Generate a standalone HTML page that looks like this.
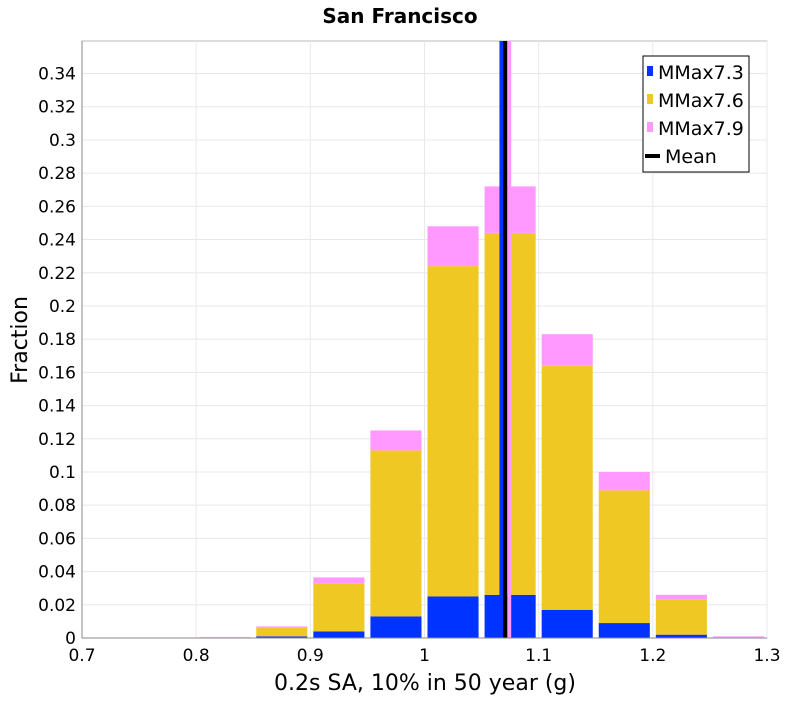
<!DOCTYPE html>
<html><head><meta charset="utf-8"><style>
body{margin:0;background:#fff;font-family:"DejaVu Sans","Liberation Sans",sans-serif}
</style></head><body>
<svg id="chart" width="800" height="700" xmlns="http://www.w3.org/2000/svg">
<text x="400" y="23" text-anchor="middle" font-size="20" font-weight="bold">San Francisco</text>
<rect x="82" y="41" width="685" height="597" fill="#fff" stroke="#bbb"/>
<g id="grid"></g><g id="bars"></g><g id="means"></g><g id="axes"></g>
<text x="425" y="690" text-anchor="middle" font-size="22">0.2s SA, 10% in 50 year (g)</text>
<text transform="translate(27,340) rotate(-90)" text-anchor="middle" font-size="22">Fraction</text>
<g>
<rect x="643" y="56" width="106" height="116" fill="#fff" stroke="#000"/>
<rect x="647" y="66" width="6" height="10" fill="#0033ff"/><text x="658" y="79" font-size="19">MMax7.3</text>
<rect x="647" y="94" width="6" height="10" fill="#f0c824"/><text x="658" y="107" font-size="19">MMax7.6</text>
<rect x="647" y="122" width="6" height="10" fill="#ff99ff"/><text x="658" y="135" font-size="19">MMax7.9</text>
<rect x="645" y="154" width="15" height="4" fill="#000"/><text x="665" y="163" font-size="19">Mean</text>
</g>
</svg>
<script>
const binStarts=[0.70,0.75,0.80,0.85,0.90,0.95,1.00,1.05,1.10,1.15,1.20,1.25];
const blueVals=[0,0,0,0.001,0.004,0.013,0.025,0.026,0.017,0.009,0.002,0.0003];
const yellowVals=[0,0.0002,0.0003,0.0055,0.029,0.100,0.199,0.218,0.147,0.080,0.021,0.0002];
const pinkVals=[0,0.0001,0.0002,0.0005,0.0035,0.012,0.024,0.028,0.019,0.011,0.003,0.0005];
const meanVals=[1.0674,1.0742,1.0707];
const meanColors=["#0033ff","#ff99ff","#000"];
const xTicks=[0.7,0.8,0.9,1.0,1.1,1.2,1.3];
const xTickLabels=["0.7","0.8","0.9","1","1.1","1.2","1.3"];
const yTicks=[0,0.02,0.04,0.06,0.08,0.1,0.12,0.14,0.16,0.18,0.2,0.22,0.24,0.26,0.28,0.3,0.32,0.34];
const yTickLabels=["0","0.02","0.04","0.06","0.08","0.1","0.12","0.14","0.16","0.18","0.2","0.22","0.24","0.26","0.28","0.3","0.32","0.34"];
const L=82,R=767,T=41,B=638,XMIN=0.7,XMAX=1.3,YMAX=0.3596,BW=0.05;
const xs=v=>L+(v-XMIN)/(XMAX-XMIN)*(R-L);
const ys=v=>B-v/YMAX*(B-T);
const NS="http://www.w3.org/2000/svg";
function mk(t,a,p){const e=document.createElementNS(NS,t);for(const k in a)e.setAttribute(k,a[k]);p.appendChild(e);return e;}
const grid=document.getElementById('grid'),bars=document.getElementById('bars'),means=document.getElementById('means'),axes=document.getElementById('axes');
xTicks.forEach((v,i)=>{
 const l=mk('line',{x1:xs(v),x2:xs(v),y1:T,y2:B,stroke:'#e8e8e8'},grid);
 
 
 const t=mk('text',{x:xs(v),y:B+23,'text-anchor':'middle','font-size':'17'},axes);t.textContent=xTickLabels[i];
 
 
});
yTicks.forEach((v,i)=>{
 const l=mk('line',{x1:L,x2:R,y1:ys(v),y2:ys(v),stroke:'#e8e8e8'},grid);
 
 
 const t=mk('text',{x:L-6,y:ys(v)+6,'text-anchor':'end','font-size':'17'},axes);t.textContent=yTickLabels[i];
 
 
});
binStarts.forEach((b,i)=>{
 const x0=xs(b)+3,w=xs(b+BW)-xs(b)-6;
 let c=0;
 [[blueVals[i],'#0033ff','blue'],[yellowVals[i],'#f0c824','yellow'],[pinkVals[i],'#ff99ff','pink']].forEach(([v,col,n])=>{
  if(v<=0)return;
  const r=mk('rect',{x:x0,y:ys(c+v),width:w,height:ys(c)-ys(c+v),fill:col},bars);
  
  
  c+=v;
 });
});
meanVals.forEach((m,i)=>{
 const l=mk('line',{x1:xs(m),x2:xs(m),y1:T,y2:B,stroke:meanColors[i],'stroke-width':4},means);
 
 
});
mk('line',{x1:L,x2:R,y1:B,y2:B,stroke:'#888'},axes);
mk('line',{x1:L,x2:L,y1:T,y2:B,stroke:'#888'},axes);
</script>
</body></html>
